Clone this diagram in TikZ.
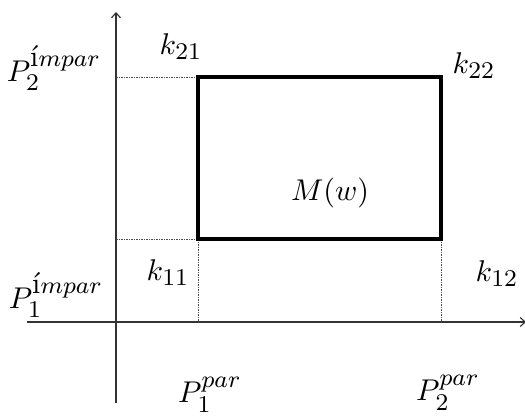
\documentclass[tikz,border=0pt]{standalone}
\usetikzlibrary{arrows.meta}
\DeclareMathSizes{10}{10}{8}{6}
\begin{document}
\begin{tikzpicture}[x=1pt,y=-1pt,
  axis/.style={draw=black!80,line width=1.1pt},
  guide/.style={draw=black!70,line width=0.8pt,dash pattern=on 1.5pt off 1pt},
  region/.style={draw=black,line width=3.1pt},
  lab/.style={inner sep=0pt,scale=3.0}]
\useasboundingbox (0,0) rectangle (525,417);
% coordinates
\coordinate (O) at (116,322);
\coordinate (ytop) at (116,12);
\coordinate (ybot) at (116,403);
\coordinate (xleft) at (27,322);
\coordinate (xright) at (526,322);
\coordinate (A) at (198,239);
\coordinate (B) at (441,239);
\coordinate (C) at (441,77);
\coordinate (D) at (198,77);
\coordinate (yD) at (116,77);
\coordinate (yA) at (116,239);
\coordinate (xA) at (198,322);
\coordinate (xB) at (441,322);
% axes
\draw[axis,-{Straight Barb[length=5pt,width=9pt]}] (ybot) -- (ytop);
\draw[axis,-{Straight Barb[length=5pt,width=9pt]}] (xleft) -- (xright);
% guides
\draw[guide] (yD) -- (D);
\draw[guide] (yA) -- (A);
\draw[guide] (A) -- (xA);
\draw[guide] (B) -- (xB);
% region
\draw[region,line join=miter] (A) -- (B) -- (C) -- (D) -- cycle;
% labels
\node[lab] (p2i) at (54,68) {$P_2^{\textrm{\'\i}mpar}$};
\node[lab] (p1i) at (56,295) {$P_1^{\textrm{\'\i}mpar}$};
\node[lab] (k21) at (181,47) {$k_{21}$};
\node[lab] (k22) at (474,66) {$k_{22}$};
\node[lab] (k11) at (168,273) {$k_{11}$};
\node[lab] (k12) at (497,274) {$k_{12}$};
\node[lab] (M) at (330,193) {$M(w)$};
\node[lab] (p1p) at (210,395) {$P_1^{par}$};
\node[lab] (p2p) at (448,393) {$P_2^{par}$};
\end{tikzpicture}
\end{document}
